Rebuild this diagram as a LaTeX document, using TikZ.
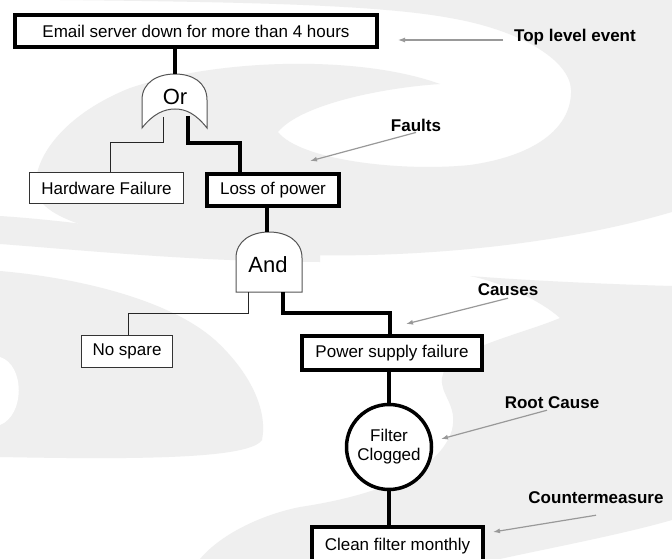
\documentclass[tikz,border=0pt]{standalone}
\usepackage{fontspec}
\setmainfont{Liberation Sans}
\usetikzlibrary{arrows.meta}
\definecolor{swirl}{HTML}{EFEFEF}
\definecolor{lblgray}{HTML}{999999}
\definecolor{gateline}{HTML}{555555}
\begin{document}
\begin{tikzpicture}[x=1pt,y=-1pt,
  thickbox/.style={draw=black, line width=3.5pt, fill=white, inner sep=0pt, font=\fontsize{17}{19}\selectfont},
  thinbox/.style={draw=black!80, line width=1.2pt, fill=white, inner sep=0pt, font=\fontsize{17}{19}\selectfont},
  thickconn/.style={draw=black, line width=3.5pt},
  thinconn/.style={draw=black!85, line width=1pt},
  lbl/.style={font=\bfseries\fontsize{17}{19}\selectfont, inner sep=1pt},
  lblarrow/.style={draw=lblgray, line width=1.2pt, -{Latex[length=7pt,width=5pt]}},
  gate/.style={draw=gateline, line width=1pt, fill=white},
  gatetext/.style={font=\fontsize{22}{24}\selectfont, inner sep=0pt}
]
\useasboundingbox (0,0) rectangle (672,559);
\clip (0,0) rectangle (672,559);
\fill[white] (0,0) rectangle (672,559);

% background swirl
\fill[swirl] (60,0) -- (672,0) -- (672,212)
  .. controls (560,245) and (420,258) .. (300,255)
  .. controls (180,250) and (60,232) .. (40,200)
  .. controls (25,175) and (50,120) .. (130,88)
  .. controls (220,58) and (360,55) .. (440,84)
  .. controls (380,88) and (300,105) .. (278,132)
  .. controls (300,160) and (400,172) .. (470,165)
  .. controls (540,155) and (572,125) .. (571,90)
  .. controls (570,60) and (520,30) .. (450,18)
  .. controls (380,5) and (250,2) .. (60,0) -- cycle;
\fill[swirl] (0,216) .. controls (90,222) and (180,238) .. (250,248)
  -- (320,254) -- (320,262)
  .. controls (200,262) and (80,250) .. (0,244) -- cycle;
\fill[swirl] (470,276) .. controls (520,280) and (600,284) .. (672,286)
  -- (672,520)
  .. controls (620,535) and (540,550) .. (500,559)
  -- (200,559)
  .. controls (220,535) and (260,515) .. (300,507)
  .. controls (380,495) and (440,470) .. (452,430)
  .. controls (458,405) and (440,395) .. (442,378)
  .. controls (445,350) and (520,335) .. (560,318)
  .. controls (540,300) and (500,282) .. (470,276) -- cycle;
\fill[swirl] (0,271) .. controls (80,278) and (170,300) .. (215,340)
  .. controls (250,372) and (268,410) .. (262,440)
  .. controls (250,458) and (150,460) .. (0,457) -- cycle;
\fill[white] (0,357) .. controls (25,365) and (25,415) .. (0,425) -- cycle;

% boxes
\node[thickbox, minimum width=362, minimum height=32] (top) at (196,31) {Email server down for more than 4 hours};
\node[thinbox, minimum width=154, minimum height=31] (hw) at (106.5,188) {Hardware Failure};
\node[thickbox, minimum width=132, minimum height=32] (lop) at (273,190) {Loss of power};
\node[thinbox, minimum width=91, minimum height=32] (ns) at (127,351.5) {No spare};
\node[thickbox, minimum width=180, minimum height=34] (psf) at (392,353) {Power supply failure};
\node[thickbox, circle, minimum size=85, align=center] (fc) at (389,447) {Filter\\Clogged};
\node[thickbox, minimum width=171, minimum height=38] (cfm) at (397.5,545.75) {\raisebox{2.5pt}{Clean filter monthly}};

% Or gate
\draw[gate] (142,128) -- (142,100) .. controls (142,82) and (158,74) .. (175,74)
  .. controls (192,74) and (207,82) .. (207,100) -- (207,128)
  .. controls (196,114) and (186,109) .. (175,109)
  .. controls (164,109) and (153,114) .. (142,128) -- cycle;
\node[gatetext] (orgate) at (175,97) {Or};
\coordinate (orIn) at (175,74);
\coordinate (orL) at (163,117);
\coordinate (orR) at (188,116);

% And gate
\draw[gate] (236,292) -- (236,258) .. controls (236,241) and (251,232) .. (269,232)
  .. controls (287,232) and (302,241) .. (302,258) -- (302,292) -- cycle;
\node[gatetext] (andgate) at (268,265) {And};
\coordinate (andIn) at (267,232);
\coordinate (andL) at (248,292);
\coordinate (andR) at (283,292);

% connectors
\draw[thickconn] (top.south -| orIn) -- (orIn);
\draw[thinconn] (orL) |- (110,143) -- (110,143 |- hw.north);
\draw[thickconn] (orR) |- (240,143) -- (240,143 |- lop.north);
\draw[thickconn] (lop.south -| andIn) -- (andIn);
\draw[thinconn] (andL) |- (128,313) -- (128,313 |- ns.north);
\draw[thickconn] (andR) |- (390,313) -- (390,313 |- psf.north);
\draw[thickconn] (psf.south -| fc.north) -- (fc.north);
\draw[thickconn] (fc.south) -- (fc.south |- cfm.north);

% labels
\node[lbl] (ltop) at (575,37) {Top level event};
\node[lbl] (lfault) at (416,125) {Faults};
\node[lbl] (lcause) at (508,290) {Causes};
\node[lbl] (lroot) at (552,403) {Root Cause};
\node[lbl] (lcm) at (596,498) {Countermeasure};

\coordinate (tTop) at (398,40);
\coordinate (tFault) at (310,161);
\coordinate (tCause) at (406,324);
\coordinate (tRoot) at (441,439);
\coordinate (tCm) at (493,532);

\draw[lblarrow] ([xshift=-10pt,yshift=-3pt]ltop.west) -- (tTop);
\draw[lblarrow] (lfault.south) -- (tFault);
\draw[lblarrow] ([yshift=-1pt]lcause.south) -- (tCause);
\draw[lblarrow] ([xshift=-5pt]lroot.south) -- (tRoot);
\draw[lblarrow] ([yshift=-10pt]lcm.south) -- (tCm);
\end{tikzpicture}
\end{document}
